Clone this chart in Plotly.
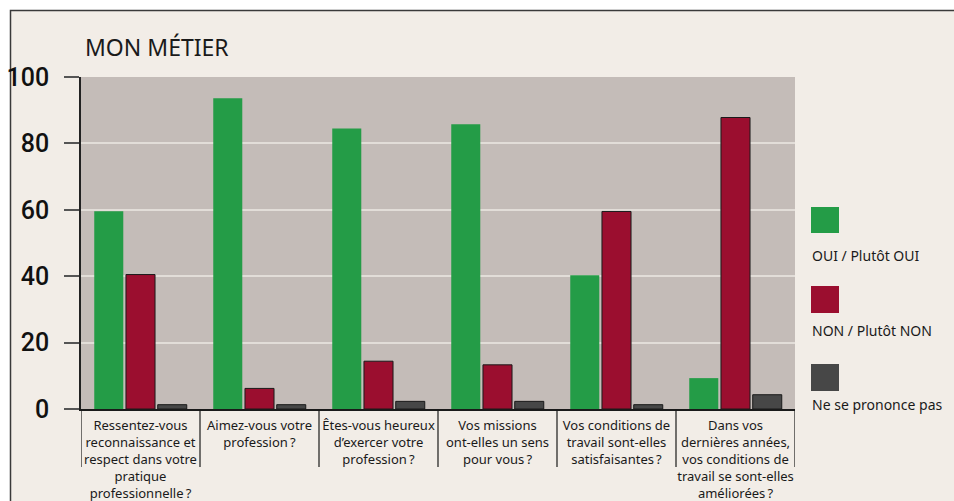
import plotly.graph_objects as go

# ---- data ----
categories = [
    "Ressentez-vous<br>reconnaissance et<br>respect dans votre<br>pratique<br>professionnelle\u202f?",
    "Aimez-vous votre<br>profession\u202f?",
    "Êtes-vous heureux<br>d’exercer votre<br>profession\u202f?",
    "Vos missions<br>ont-elles un sens<br>pour vous\u202f?",
    "Vos conditions de<br>travail sont-elles<br>satisfaisantes\u202f?",
    "Dans vos<br>dernières années,<br>vos conditions de<br>travail se sont-elles<br>améliorées\u202f?",
]
series_names = ["OUI / Plutôt OUI", "NON / Plutôt NON", "Ne se prononce pas"]
oui = [59.6, 93.6, 84.5, 85.8, 40.3, 9.3]
non = [40.5, 6.2, 14.4, 13.3, 59.5, 87.8]
nsp = [1.3, 1.3, 2.3, 2.3, 1.3, 4.3]
y_ticks = [0, 20, 40, 60, 80, 100]
title_text = "MON MÉTIER"

# ---- style ----
W, H = 954, 501
L, R, T, B = 81, 159, 77, 92
PW, PH = W - L - R, H - T - B
colors = ["#249c47", "#9b0e2f", "#474747"]
line_colors = ["#249c47", "#1a1a1a", "#1a1a1a"]
paper_beige = "#f2ede7"
plot_gray = "#c4bcb8"
label_font = "Noto Sans, Lato, sans-serif"


def px_x(px):
    return (px - L) / PW


def px_y(py):
    return 1 - (py - T) / PH


fig = go.Figure()
idx = list(range(len(categories)))
for name, vals, c, lc in zip(series_names, [oui, non, nsp], colors, line_colors):
    fig.add_trace(go.Bar(
        x=idx, y=vals, name=name,
        marker=dict(color=c, line=dict(color=lc, width=1 if lc != c else 0)),
        showlegend=False,
    ))

shapes = []
# outer beige frame
shapes.append(dict(type="rect", xref="paper", yref="paper",
                   x0=px_x(10.5), x1=px_x(W + 20), y0=px_y(10.5), y1=px_y(H + 20),
                   fillcolor=paper_beige, line=dict(color="#3a3a3a", width=1.5),
                   layer="below"))
# plot area gray
shapes.append(dict(type="rect", xref="paper", yref="paper",
                   x0=0, x1=1, y0=0, y1=1, fillcolor=plot_gray,
                   line=dict(width=0), layer="below"))
# category divider lines under the axis
for k in range(len(categories) + 1):
    shapes.append(dict(type="line", xref="x", yref="paper",
                       x0=k - 0.5, x1=k - 0.5, y0=0, y1=px_y(467),
                       line=dict(color="#1a1a1a", width=1.2)))

annotations = []
legend_sq = [(207, 233, 255), (286, 313, 330), (364, 391, 404)]
for (y0, y1, ty), name, c in zip(legend_sq, series_names, colors):
    shapes.append(dict(type="rect", xref="paper", yref="paper",
                       x0=px_x(811), x1=px_x(839), y0=px_y(y1), y1=px_y(y0),
                       fillcolor=c, line=dict(width=0)))
    annotations.append(dict(xref="paper", yref="paper", x=px_x(810), y=px_y(ty),
                            xanchor="left", yanchor="middle", showarrow=False,
                            text=name, font=dict(family=label_font, size=14, color="#1a1a1a")))

fig.update_layout(
    width=W, height=H,
    margin=dict(l=L, r=R, t=T, b=B, autoexpand=False),
    paper_bgcolor="white",
    plot_bgcolor="rgba(0,0,0,0)",
    barmode="group", bargap=0.2, bargroupgap=0.085,
    title=dict(text=title_text, xref="paper", x=px_x(85), xanchor="left",
               yref="container", y=1 - 47.5 / H, yanchor="middle",
               font=dict(family=label_font, size=23, color="#1a1a1a")),
    xaxis=dict(
        tickmode="array", tickvals=idx, ticktext=categories,
        range=[-0.5, len(categories) - 0.5],
        showgrid=False, ticks="", showline=True, linecolor="#1a1a1a", linewidth=1.5,
        tickfont=dict(family=label_font, size=13, color="#1a1a1a"),
        ticklabelstandoff=4, tickangle=0,
    ),
    yaxis=dict(
        range=[0, 100], tickvals=y_ticks, ticktext=[str(v) for v in y_ticks],
        showgrid=True, gridcolor="#e2ddd8", gridwidth=1.5,
        zeroline=False, showline=True, linecolor="#222222", linewidth=1.5,
        ticks="outside", ticklen=15, tickwidth=1.5, tickcolor="#555555",
        tickfont=dict(family="Roboto, Noto Sans, sans-serif", size=25,
                      color="#111111", weight=500),
        ticklabelstandoff=10,
    ),
    shapes=shapes,
    annotations=annotations,
)

fig.write_html("out.html")
